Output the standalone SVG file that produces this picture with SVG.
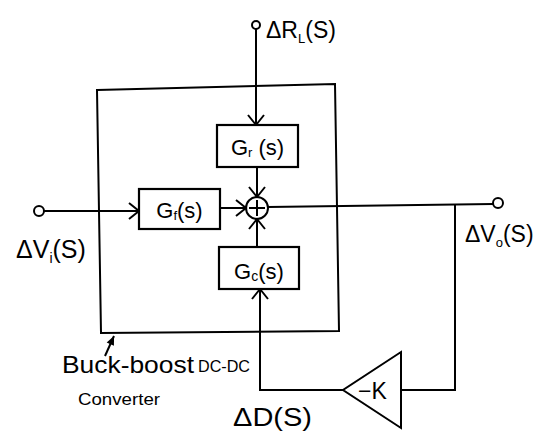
<svg xmlns="http://www.w3.org/2000/svg" width="544" height="439" viewBox="0 0 544 439">
<style>
.ln{fill:none;stroke:#000;stroke-width:2;stroke-linejoin:miter}
.bx{fill:#fff;stroke:#000;stroke-width:2.2}
.t{font-family:"Liberation Sans",Arial,sans-serif;fill:#000}
.g{font-size:22px}
</style>
<defs>
<marker id="arr" viewBox="-12 -10 14 20" refX="0" refY="0" markerWidth="14" markerHeight="20" markerUnits="userSpaceOnUse" orient="auto">
<path d="M-10,-8 L0,0 L-10,8" fill="none" stroke="#000" stroke-width="2"/>
</marker>
<marker id="fa" viewBox="-10 -5 11 10" refX="0" refY="0" markerWidth="11" markerHeight="10" markerUnits="userSpaceOnUse" orient="auto">
<path d="M-9,-4 L0,0 L-9,4 Z" fill="#000"/>
</marker>
</defs>
<rect width="544" height="439" fill="#fff"/>
<g id="converter">
<polygon class="ln" points="97,90 335,84 339,331 101,333"/>
</g>
<g id="connectors">
<line class="ln" x1="256" y1="29" x2="256" y2="125" marker-end="url(#arr)"/>
<line class="ln" x1="257" y1="167" x2="257" y2="197" marker-end="url(#arr)"/>
<line class="ln" x1="44" y1="211" x2="139" y2="211" marker-end="url(#arr)"/>
<line class="ln" x1="220" y1="208" x2="246" y2="208" marker-end="url(#arr)"/>
<polyline class="ln" points="343,390 260,390 260,289" marker-end="url(#arr)"/>
<line class="ln" x1="257" y1="247" x2="257" y2="219" marker-end="url(#arr)"/>
<line class="ln" x1="268" y1="207" x2="493" y2="204"/>
<polyline class="ln" points="455,205 455,390 401,390"/>
<line class="ln" x1="105" y1="356" x2="114" y2="336" marker-end="url(#fa)"/>
</g>
<g id="in-R">
<circle class="ln" cx="256" cy="25" r="4" fill="#fff"/>
<text class="t" x="266" y="38" font-size="23">ΔR<tspan font-size="13" dy="5">L</tspan><tspan dy="-5">(S)</tspan></text>
</g>
<g id="in-V">
<circle class="ln" cx="39" cy="211" r="5" fill="#fff"/>
<text class="t" x="16" y="258" font-size="25">ΔV<tspan font-size="14" dy="5">i</tspan><tspan dy="-5">(S)</tspan></text>
</g>
<g id="out-V">
<circle class="ln" cx="498" cy="203" r="5" fill="#fff"/>
<text class="t" x="465" y="242" font-size="23">ΔV<tspan font-size="13" dy="5">o</tspan><tspan dy="-5">(S)</tspan></text>
</g>
<g id="Gr">
<rect class="bx" x="217" y="125" width="81" height="42"/>
<text class="t g" x="257.5" y="155" text-anchor="middle">G<tspan font-size="13" dy="2">r</tspan><tspan dy="-2"> (s)</tspan></text>
</g>
<g id="Gf">
<rect class="bx" x="139" y="189" width="81" height="40"/>
<text class="t g" x="179.5" y="218" text-anchor="middle">G<tspan font-size="13" dy="2">f</tspan><tspan dy="-2">(s)</tspan></text>
</g>
<g id="Gc">
<rect class="bx" x="219" y="247" width="80" height="42"/>
<text class="t g" x="259" y="279" text-anchor="middle">G<tspan font-size="14" dy="2">c</tspan><tspan dy="-2">(s)</tspan></text>
</g>
<g id="sum">
<circle class="ln" cx="257" cy="208" r="11" fill="#fff"/>
<line class="ln" x1="257" y1="200" x2="257" y2="216"/>
<line class="ln" x1="249" y1="208" x2="265" y2="208"/>
</g>
<g id="gain">
<polygon class="ln" points="401,352 401,428 343,390" fill="#fff"/>
<text class="t" x="358" y="399" font-size="23">−K</text>
</g>
<g id="labels">
<text class="t" x="233" y="426" font-size="26" textLength="79" lengthAdjust="spacingAndGlyphs">ΔD(S)</text>
<text class="t" x="62" y="373" font-size="24" textLength="132" lengthAdjust="spacingAndGlyphs">Buck-boost</text>
<text class="t" x="198" y="372" font-size="16" textLength="52" lengthAdjust="spacingAndGlyphs">DC-DC</text>
<text class="t" x="78" y="405" font-size="17" textLength="82" lengthAdjust="spacingAndGlyphs">Converter</text>
</g>
</svg>
